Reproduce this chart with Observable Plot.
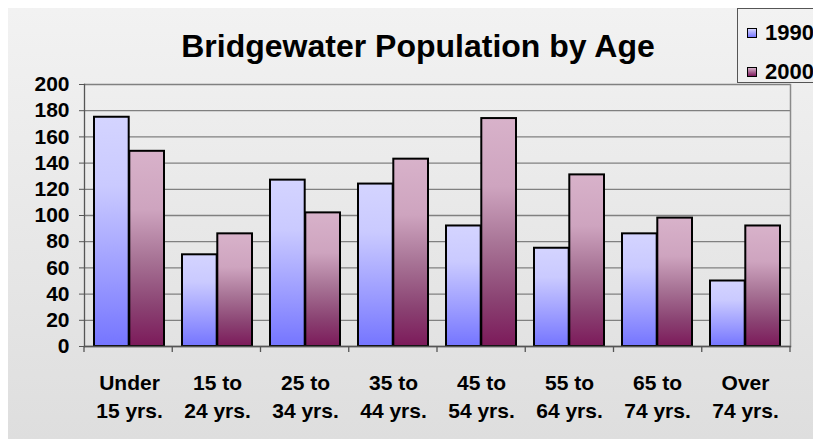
<!DOCTYPE html>
<html>
<head>
<meta charset="utf-8">
<script src="https://cdn.jsdelivr.net/npm/d3@7"></script>
<script src="https://cdn.jsdelivr.net/npm/@observablehq/plot@0.6"></script>
<style>
  html, body { margin: 0; padding: 0; background: #ffffff; overflow: hidden; }
  #wrap { position: relative; width: 813px; height: 439px; overflow: hidden; font-family: "Liberation Sans", Arial, sans-serif; }
  #panel { position: absolute; left: 8px; top: 8px; width: 805px; height: 431px; background: linear-gradient(#f2f2f2, #dedede); }
  #chart { position: absolute; left: 0; top: 0; }
  #legend { position: absolute; left: 737px; top: 8px; width: 100px; height: 75px; border: 1px solid #555; box-sizing: border-box; }
  .li { position: absolute; left: 9px; font-weight: bold; font-size: 22px; line-height: 22px; color: #000; }
  .sw { position: absolute; left: 0; width: 8px; height: 8px; border: 1px solid #000; }
  .li span { position: absolute; left: 18px; top: 0; white-space: nowrap; }
</style>
</head>
<body>
<div id="wrap">
  <div id="panel"></div>
  <div id="chart"></div>
  <div id="legend">
    <div class="li" style="top:13px"><div class="sw" style="top:6px;background:linear-gradient(#d4d4ff,#7878ff)"></div><span>1990</span></div>
    <div class="li" style="top:52px"><div class="sw" style="top:6px;background:linear-gradient(#d6b0c8,#7c1a5c)"></div><span>2000</span></div>
  </div>
</div>
<script>
const title = "Bridgewater Population by Age";
const categories = ["Under\n15 yrs.", "15 to\n24 yrs.", "25 to\n34 yrs.", "35 to\n44 yrs.", "45 to\n54 yrs.", "55 to\n64 yrs.", "65 to\n74 yrs.", "Over\n74 yrs."];
const values1990 = [175, 70, 127, 124, 92, 75, 86, 50];
const values2000 = [149, 86, 102, 143, 174, 131, 98, 92];
const yTicks = [0, 20, 40, 60, 80, 100, 120, 140, 160, 180, 200];

const d1990 = categories.map((c, i) => ({category: c, value: values1990[i]}));
const d2000 = categories.map((c, i) => ({category: c, value: values2000[i]}));

const font = "'Liberation Sans', Arial, sans-serif";
const W = 813, H = 439, mL = 84, mR = 23, mT = 84, mB = 93;
const step = (W - mL - mR) / categories.length;
const half = step * 0.8 / 2;

const plot = Plot.plot({
  width: W, height: H,
  marginLeft: mL, marginRight: mR, marginTop: mT, marginBottom: mB,
  style: {background: "transparent", fontFamily: font, color: "#000", overflow: "visible"},
  x: {domain: categories, paddingInner: 0.2, paddingOuter: 0.1, label: null},
  y: {domain: [0, 200], label: null},
  marks: [
    Plot.gridY(yTicks, {stroke: "#808080", strokeOpacity: 1, strokeWidth: 1.3}),
    Plot.frame({anchor: "right", stroke: "#8a8a8a", strokeWidth: 1.5}),
    Plot.barY(d1990, {x: "category", y: "value", fill: "url(#g1990)", stroke: "#000", strokeWidth: 2, insetRight: half}),
    Plot.barY(d2000, {x: "category", y: "value", fill: "url(#g2000)", stroke: "#000", strokeWidth: 2, insetLeft: half}),
    Plot.axisY(yTicks, {tickSize: 5, tickPadding: 10, fontSize: 21, fontWeight: "bold", stroke: "#555", tickFormat: d => String(d), label: null}),
    Plot.axisX({tickSize: 0, tickPadding: 24, fontSize: 21, fontWeight: "bold", lineHeight: 1.32, label: null}),
    Plot.frame({anchor: "left", stroke: "#555", strokeWidth: 1.3}),
    Plot.frame({anchor: "bottom", stroke: "#555", strokeWidth: 1.3})
  ]
});

document.getElementById("chart").appendChild(plot);

const svg = d3.select(plot);
const defs = svg.insert("defs", ":first-child");
function grad(id, stops) {
  const g = defs.append("linearGradient").attr("id", id).attr("x1", 0).attr("y1", 0).attr("x2", 0).attr("y2", 1);
  stops.forEach(([o, c]) => g.append("stop").attr("offset", o).attr("stop-color", c));
}
grad("g1990", [[0, "#d4d4ff"], [0.3, "#cacaff"], [0.7, "#9a9aff"], [1, "#7575ff"]]);
grad("g2000", [[0, "#d8b2ca"], [0.3, "#cea4bf"], [0.55, "#a87496"], [0.8, "#8a4272"], [1, "#7c1a5a"]]);

// category boundary ticks below the axis, placed with the x scale
const xs = plot.scale("x");
const sx = d3.scaleBand().domain(xs.domain).range(xs.range).paddingInner(0.2).paddingOuter(0.1);
const st = sx.step();
const bounds = xs.domain.map(c => sx(c) - (st - sx.bandwidth()) / 2);
bounds.push(bounds[bounds.length - 1] + st);
svg.append("g").selectAll("line").data(bounds).join("line")
  .attr("x1", d => d).attr("x2", d => d)
  .attr("y1", H - mB).attr("y2", H - mB + 6)
  .attr("stroke", "#555").attr("stroke-width", 1.3);

// title
svg.append("text").text(title)
  .attr("x", 418).attr("y", 57)
  .attr("text-anchor", "middle")
  .attr("font-family", font).attr("font-weight", "bold").attr("font-size", 32)
  .attr("fill", "#000");
</script>
</body>
</html>
